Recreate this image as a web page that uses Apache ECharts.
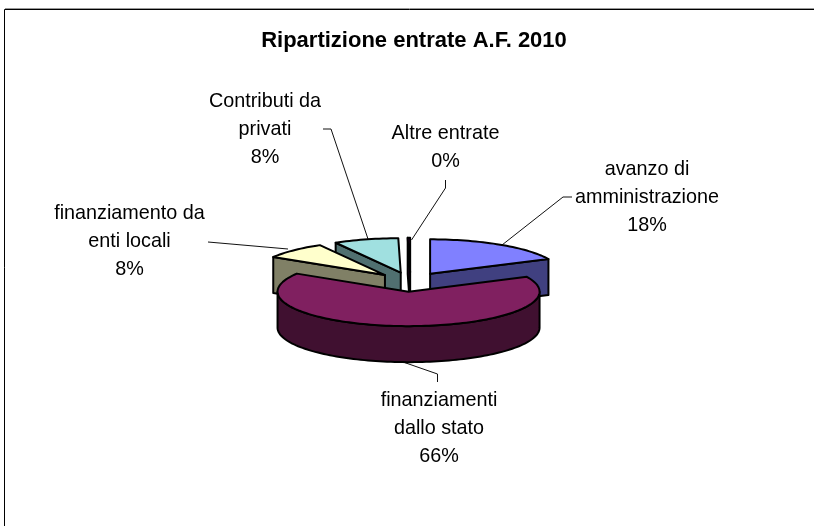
<!DOCTYPE html>
<html><head><meta charset="utf-8">
<style>html,body{margin:0;padding:0;background:#fff}#c{width:814px;height:526px}</style>
<script src="https://cdn.jsdelivr.net/npm/echarts@6/dist/echarts.min.js"></script>
</head><body><div id="c"></div>
<script>
const titleText = 'Ripartizione entrate A.F. 2010';
const categories = ['avanzo di\namministrazione', 'finanziamenti\ndallo stato', 'finanziamento da\nenti locali', 'Contributi da\nprivati', 'Altre entrate'];
const values = [18, 66, 8, 8, 0.3];
const percentLabels = ['18%', '66%', '8%', '8%', '0%'];
const topColors = ['#8080FF', '#802060', '#FFFFCC', '#A0E0E0', '#660066'];
const sideColors = ['#404080', '#401030', '#808066', '#507070', '#330033'];
const drawOrder = [0, 3, 2, 4, 1];
const labelCentres = [[647, 198], [439, 429], [129.5, 242], [265, 130], [445.5, 148]];
const leaderPaths = [
  [[572, 197], [563, 197], [502, 245]],
  [[403, 362], [437.5, 374], [437.5, 382]],
  [[208, 242], [288, 249]],
  [[323, 129], [331, 129], [368, 239]],
  [[445.5, 180], [445.5, 188], [411.5, 240]]
];
const pie = {cx: 410.5, cy: 282, rx: 131, ry: 34.5, depth: 36, explode: 0.28};
const total = values.reduce((a, b) => a + b, 0);
const FONT = '"Liberation Sans", Arial, sans-serif';

function pt(c, t) { return [c[0] + pie.rx * Math.sin(t), c[1] - pie.ry * Math.cos(t)]; }
function down(p) { return [p[0], p[1] + pie.depth]; }
function arc(c, a, b) {
  const n = Math.max(2, Math.ceil(Math.abs(b - a) / 0.03)), out = [];
  for (let i = 0; i <= n; i++) out.push(pt(c, a + (b - a) * i / n));
  return out;
}
const edge = {stroke: '#000', lineWidth: 2, lineJoin: 'round'};
function poly(points, fill) {
  return {type: 'polygon', shape: {points}, style: Object.assign({fill}, edge), silent: true};
}
function sliceGroup(idx) {
  let sum = 0;
  for (let i = 0; i < idx; i++) sum += values[i];
  const a = sum / total * 2 * Math.PI, b = (sum + values[idx]) / total * 2 * Math.PI;
  const m = (a + b) / 2;
  const c = [pie.cx + pie.explode * pie.rx * Math.sin(m), pie.cy - pie.explode * pie.ry * Math.cos(m)];
  const kids = [];
  const side = sideColors[idx];
  const wall = (p, q) => kids.push(poly([p, q, down(q), down(p)], side));
  // only the cut faces turned towards the viewer, then the rim wall and the top surface
  const pa = pt(c, a), pb = pt(c, b);
  if (Math.sin(a) < 0) wall(c, pa);
  if (Math.sin(b) > 0) wall(c, pb);
  const lo = Math.max(a, Math.PI / 2), hi = Math.min(b, 1.5 * Math.PI);
  if (hi > lo) {
    const r = arc(c, lo, hi);
    kids.push(poly(r.concat(r.map(down).reverse()), side));
  }
  kids.push(poly([c].concat(arc(c, a, b)), topColors[idx]));
  return kids;
}
const chart = echarts.init(document.getElementById('c'), null, {renderer: 'canvas'});
const seriesData = drawOrder.map(i => ({name: categories[i].replace('\n', ' '), value: values[i], sliceIndex: i}));
chart.setOption({
  animation: false,
  backgroundColor: '#fff',
  title: {text: titleText, left: 409, top: 25, textAlign: 'center',
    textStyle: {fontFamily: FONT, fontSize: 22, fontWeight: 'bold', color: '#000'}},
  series: [{
    type: 'custom',
    coordinateSystem: 'none',
    data: seriesData,
    silent: true,
    renderItem: function (params) {
      return {type: 'group', children: sliceGroup(seriesData[params.dataIndex].sliceIndex)};
    }
  }],
  graphic: [
    {type: 'line', shape: {x1: 5, y1: 8.5, x2: 814, y2: 8.5}, style: {stroke: '#999', lineWidth: 1}, silent: true},
    {type: 'polyline', shape: {points: [[4.5, 526], [4.5, 9.5], [814, 9.5]]}, style: {stroke: '#000', lineWidth: 1, fill: null}, silent: true}
  ].concat(leaderPaths.map(p => ({type: 'polyline', shape: {points: p}, style: {stroke: '#111', lineWidth: 1, fill: null}, silent: true})))
   .concat(categories.map((c, i) => ({type: 'text', x: labelCentres[i][0], y: labelCentres[i][1], silent: true,
      style: {text: c + '\n' + percentLabels[i], align: 'center', verticalAlign: 'middle', font: '19.8px ' + FONT, lineHeight: 28, fill: '#000'}})))
});
</script></body></html>
